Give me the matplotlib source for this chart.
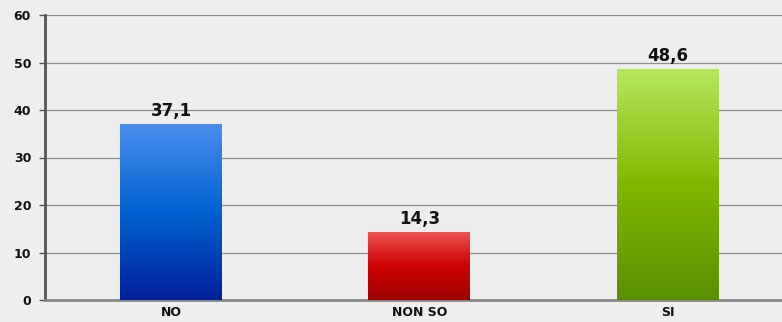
import numpy as np
import matplotlib
matplotlib.use("Agg")
import matplotlib.pyplot as plt
from matplotlib.colors import LinearSegmentedColormap

categories = ["NO", "NON SO", "SI"]
values = [37.1, 14.3, 48.6]
value_labels = ["37,1", "14,3", "48,6"]
yticks = [0, 10, 20, 30, 40, 50, 60]

# gradient stops for each bar: bottom, middle, top
gradients = [
    ["#00209A", "#0062D0", "#4A8EEE"],
    ["#A00000", "#CC0000", "#EE5252"],
    ["#5A9000", "#80B800", "#B6E85C"],
]

bg = "#EEEEEE"
fig = plt.figure(figsize=(7.82, 3.22), dpi=100, facecolor=bg)
ax = fig.add_axes([45 / 782, 22 / 322, 737 / 782, 285 / 322])
ax.set_facecolor(bg)

x = np.arange(len(categories))
width = 0.41
bars = ax.bar(x, values, width=width, color="none", zorder=3)

grad = np.linspace(0, 1, 256).reshape(-1, 1)
for rect, stops in zip(bars, gradients):
    cmap = LinearSegmentedColormap.from_list("g", stops)
    x0, w, h = rect.get_x(), rect.get_width(), rect.get_height()
    im = ax.imshow(grad, cmap=cmap, origin="lower", aspect="auto",
                   extent=(x0, x0 + w, 0, h), zorder=3)
    im.set_clip_path(rect)

for xi, v, lab in zip(x, values, value_labels):
    ax.text(xi, v + 0.8, lab, ha="center", va="bottom", fontsize=12,
            fontweight="bold", color="#111111", zorder=4)

ax.set_xlim(-0.507, 2.46)
ax.set_ylim(0, 60)
ax.set_yticks(yticks)
ax.set_xticks(x)
ax.set_xticklabels(categories)
ax.yaxis.grid(True, color="#8E8E8E", linewidth=0.9, zorder=0)
ax.set_axisbelow(True)

for lab in ax.get_xticklabels() + ax.get_yticklabels():
    lab.set_fontweight("bold")
    lab.set_fontsize(9)
    lab.set_color("#111111")

ax.tick_params(axis="x", length=0, pad=4)
ax.tick_params(axis="y", length=4, width=1, color="#555555", pad=6)

for s in ["top", "right"]:
    ax.spines[s].set_visible(False)
ax.spines["left"].set_color("#555555")
ax.spines["left"].set_linewidth(2)
ax.spines["bottom"].set_color("#888888")
ax.spines["bottom"].set_linewidth(2)

fig.savefig("out.png", dpi=100, facecolor=bg)
